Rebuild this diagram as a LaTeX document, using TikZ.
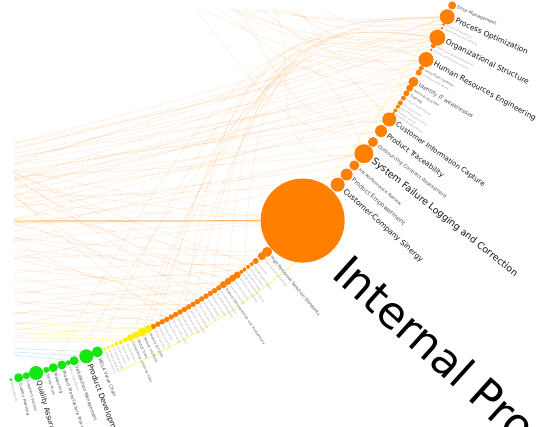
\documentclass[tikz,border=0pt]{standalone}
\usepackage{fontspec}
\setmainfont{DejaVu Sans}
\usetikzlibrary{calc}
\definecolor{orng}{RGB}{255,128,0}
\definecolor{ylw}{RGB}{255,238,0}
\definecolor{grn}{RGB}{20,230,20}
\definecolor{lbA}{RGB}{20,20,20}
\definecolor{lbB}{RGB}{80,80,80}
\definecolor{lbC}{RGB}{150,150,150}
\definecolor{cyn}{RGB}{140,215,240}
\pgfdeclarelayer{back}
\pgfdeclarelayer{bg}
\pgfsetlayers{back,bg,main}
\tikzset{
  dot/.style={circle,inner sep=0pt,draw=none},
  lab/.style={inner sep=0pt,anchor=west},
  edge/.style={draw=orng,opacity=0.17,line width=0.5pt},
  yedge/.style={draw=ylw,opacity=0.35,line width=0.5pt},
  cedge/.style={draw=cyn,opacity=0.6,line width=0.5pt},
}
\begin{document}
\begin{tikzpicture}[x=1pt,y=1pt]
\useasboundingbox (0,0) rectangle (537,-426);
\begin{pgfonlayer}{back}
\fill[white] (0,0) rectangle (537,-426);
\end{pgfonlayer}
\coordinate (O) at (-142,248);
% ring nodes
\foreach \nm/\a/\r/\c/\t/\s/\g in {
a0/23.1/4/orng/Error Management/4.5/lbB,
a1/24.2/7.5/orng/Process Optimization/7.5/lbA,
a2/24.95/1.5/orng/Process Re-engineering/2.3/lbC,
a3/25.3/1.5/orng/Process Performance Indicators/2.3/lbC,
a4/26.25/8/orng/Organizational Structure/7.5/lbA,
a5/27.05/2.5/orng/Information Systems Integration/2.5/lbC,
a6/27.45/1.5/orng/Internal Communication Channels/2.3/lbC,
a7/28.43/7.5/orng/Human Resources Engineering/7.5/lbA,
a8/29.3/2.5/orng/Global Model Validation/2.8/lbB,
a9/29.75/3/orng/IT Infrastructure Review/2.5/lbC,
a10/30.7/5/orng/Identify IT weaknesses/5.5/lbB,
a11/31.35/3.5/orng/Administrative Plan/3/lbB,
a12/31.9/3/orng/Training/3.5/lbB,
a13/32.4/2.5/orng/Internal Audit Program/2.5/lbC,
a14/32.9/2.5/orng/Document Control/2.3/lbC,
a15/33.3/2/orng/Record Keeping Procedures/2.3/lbC,
a16/33.7/2/orng/Workflow Analysis/2.3/lbC,
a17/34.0/1.5/orng/Resource Allocation Review/2.3/lbC,
a18/34.67/7/orng/Customer Information Capture/7/lbA,
a19/35.93/6/orng/Product Traceability/7/lbA,
a20/37.14/5/orng/Outsourcing Contract Assessment/5/lbB,
a21/38.45/9.5/orng/System Failure Logging and Correction/9.5/lbA,
a22/39.79/5/orng/HR Performance Review/4.5/lbB,
a23/40.85/6/orng/Product Empowerment/6/lbB,
a24/42.05/7/orng/Customer-Company Sinergy/7.5/lbA,
b1/50.7/5/orng/High Personnel Selection Standards/4.2/lbB,
b2/51.3/4/orng/Personnel Development Plans/2.3/lbC,
b3/52.0/3/orng/Job Rotation/2.3/lbC,
b4/52.45/2/orng/Staff Motivation Program/2.3/lbC,
b5/52.85/2/orng/Incentive Systems/2.3/lbC,
b6/53.25/2/orng/Skills Matrix Update/2.3/lbC,
b7/53.6/2/orng/Employee Satisfaction Survey/2.3/lbC,
b8/54.05/3.5/orng/Competence Assessment/2.3/lbC,
b9/54.55/3.5/orng/Work Environment/2.3/lbC,
b10/55.05/3.5/orng/Teamwork Promotion/2.3/lbC,
b11/55.55/3.5/orng/Product Documentation and Transparency/3.2/lbB,
b12/56.05/2.7/orng/Internal Communication/2.3/lbC,
b13/56.5/2.7/orng/Knowledge Management/2.3/lbC,
b14/56.95/2.7/orng/Suggestion System/2.3/lbC,
b15/57.4/2.7/orng/Process Mapping/2.3/lbC,
b16/57.85/2.7/orng/Procedure Manuals/2.3/lbC,
b17/58.3/2.7/orng/Work Instructions/2.3/lbC,
b18/58.75/2.7/orng/Task Standardization/2.3/lbC,
b19/59.2/2.7/orng/Performance Indicators/2.3/lbC,
b20/59.65/2.7/orng/Management Review/2.3/lbC,
b21/60.1/2.7/orng/Corrective Actions/2.3/lbC,
b22/60.55/2.7/orng/Preventive Actions/2.3/lbC,
b23/61.0/2.7/orng/Nonconformity Control/2.3/lbC,
b24/61.45/2.7/orng/Root Cause Analysis/2.3/lbC,
b25/61.9/2.7/orng/Process Audits/2.3/lbC,
b26/62.35/2.7/orng/Calibration Control/2.3/lbC,
b27/62.8/2.7/orng/Maintenance Plan/2.3/lbC,
y1/63.3/4/ylw/Module ID Cards/3.2/lbB,
y2/63.9/4.5/ylw/Module Info Book/3.2/lbB,
y3/64.5/3.5/ylw/Module Sizes/3.2/lbB,
y4/65.05/3.5/ylw/Consistency of Set-Up Sizes/3.2/lbB,
y5/65.55/2.5/ylw/Supplier Ratings/2.3/lbC,
y6/66.0/2/ylw/Supplier Audits/2.3/lbC,
y7/66.4/2/ylw/Delivery Control/2.3/lbC,
y8/66.8/1.5/ylw/Incoming Inspection/2.3/lbC,
y9/67.2/1.5/ylw/Packaging Standards/2.3/lbC,
y10/67.55/1.5/ylw/Transport Conditions/2.3/lbC,
g1/68.25/5.5/grn/MDLA Value Chain/4.5/lbB,
g2/69.3/7/grn/Product Development/7.5/lbA,
g3/70.45/4.5/grn/Satisfaction Management/4.5/lbB,
g4/71.0/2.5/grn/Product Specification/2.5/lbC,
g5/71.6/4.5/grn/Product Manufacture Process/4.5/lbB,
g6/72.4/4.5/grn/Measuring/4/lbB,
g7/73.05/3/grn/Safety Team/3.5/lbB,
g8/74.0/7/grn/Quality Assurance/7/lbA,
g9/74.9/3.5/grn/Supplier Selection/3.5/lbB,
g10/75.6/4.5/grn/Quality Planning/4/lbB,
g11/76.3/1.5/grn/Quality Records/2.5/lbC%
}{
  \node[dot,fill=\c,minimum size=2*\r] (\nm) at ($(O)+(-\a:646)$) {};
  \node[lab,text=\g,rotate=-\a,font=\fontsize{\s}{\s}\selectfont] (l\nm) at ($(O)+(-\a:{646+\r+1.5})$) {\t};
}
% central group node
\node[dot,fill=orng,minimum size=84] (big) at ($(O)+(-46.5:646)$) {};
\node[inner sep=0pt,anchor=base west,rotate=-42,text=black,font=\fontsize{44}{44}\selectfont] (lbig) at (330,-276) {Internal Processes};
% edges
\begin{pgfonlayer}{bg}
\begin{scope}
\clip (14,-9) rectangle (537,-426);
% top nodes to the left
\foreach \s/\y/\bb in {a1/152/2,a1/175/1,a4/155/2,a4/190/1,a7/160/2,a7/200/1,a8/165/1,a10/170/1,a10/205/0,a11/162/1,a12/180/1,a13/195/0,a18/168/1,a18/215/0,a19/185/1,a20/200/0,a21/178/1,a21/226/0,a21/240/-1,a22/212/0,a23/232/-1,a24/245/-1,a24/198/1,a14/185/1,a15/176/1,a5/150/2,a9/188/1,a16/210/0,a17/230/-1,a2/158/2,a3/170/2}{
  \coordinate (e) at (-20,-\y);
  \draw[edge] (\s) to[bend left=\bb] (e);
}
% lower nodes to the left
\foreach \s/\y/\bb in {big/180/2,big/200/1,big/245/-2,big/265/-3,big/162/2,b1/235/2,b2/260/-2,b3/195/3,b4/275/-2,b5/245/2,b6/300/-3,b7/215/3,b8/285/-2,b9/230/2,b10/310/-2,b11/265/2,b12/320/-2,b13/205/3,b14/290/2,b15/250/3,b16/330/-2,b17/240/3,b18/300/2,b19/270/2,b20/315/-2,b21/225/3,b22/335/-2,b23/280/2,b24/310/2,b25/295/2,b26/325/-2,b27/340/-2,b8/155/2,b12/160/2,b16/152/2,b20/172/2,b24/165/2,b10/175/2,b4/158/2}{
  \coordinate (e) at (-20,-\y);
  \draw[edge] (\s) to[bend left=\bb] (e);
}
\coordinate (e) at (-20,-221);
\draw[edge,opacity=0.55,line width=0.9pt] (big) -- (e);
\coordinate (e) at (-20,-222.5);
\draw[edge,opacity=0.35] (big) -- (e);
% arcs leaving at the top
\foreach \s/\ex/\dy in {a1/140/0,a1/180/5,a4/150/3,a4/230/8,a5/170/4,a7/130/6,a7/200/2,a10/160/8,a18/190/10,a19/145/12,a21/240/9,a2/260/0,a3/210/3,a6/155/2,a8/250/4}{
  \coordinate (e) at (\ex,30);
  \draw[edge] (\s) .. controls ($(\s)+(-130,-\dy-8)$) and ($(e)+(90,-45)$) .. (e);
}
% lower nodes up to the top nodes
\foreach \s/\t/\k in {b14/a1/0,b18/a4/10,b22/a7/20,b26/a1/-10,y2/a4/5,y4/a10/15,g1/a7/-5,g3/a1/25,g6/a4/-15,b10/a18/0,b6/a21/8,b20/a5/-20,y1/a2/12}{
  \draw[edge] (\s) .. controls (245+\k,-35) and (305+\k,-20) .. (\t);
}
% yellow and cyan edges
\foreach \s/\y in {y1/318,y2/325,y3/331,y4/336,y5/340}{
  \coordinate (e) at (-20,-\y);
  \draw[yedge] (\s) to[bend left=2] (e);
}
\foreach \s/\y in {g1/347,g2/350,g3/352}{
  \coordinate (e) at (-20,-\y);
  \draw[cedge] (\s) -- (e);
}
\draw[ylw,opacity=0.6,line width=0.6pt] ($(O)+(-47:672)$) arc[start angle=-47,end angle=-67,radius=672];
\draw[ylw,opacity=0.35,line width=0.5pt] ($(O)+(-20:634)$) arc[start angle=-20,end angle=-45,radius=634];
\end{scope}
\end{pgfonlayer}
\end{tikzpicture}
\end{document}
